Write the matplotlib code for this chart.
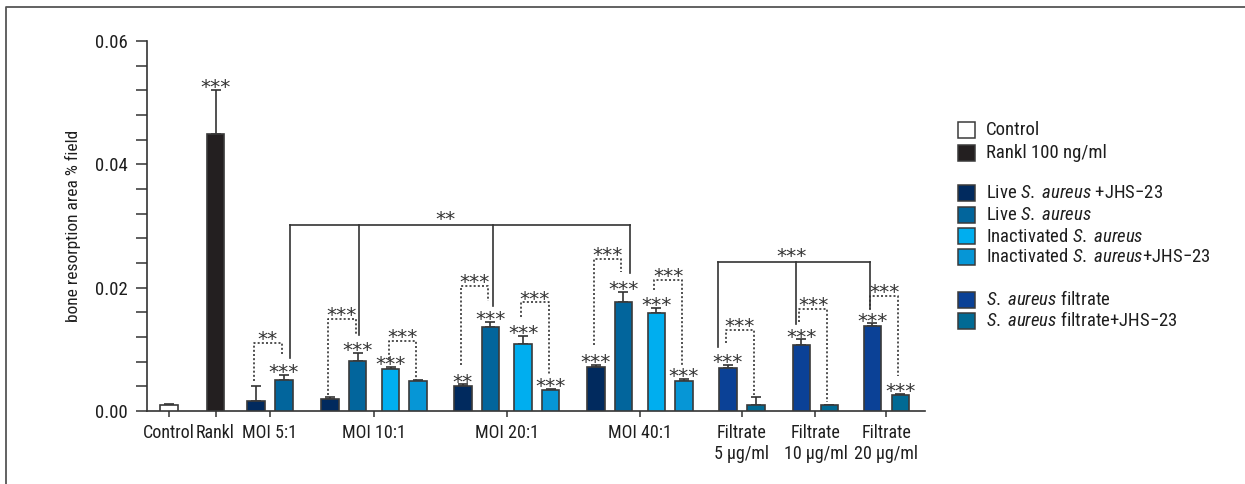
import numpy as np
import matplotlib
matplotlib.use("Agg")
import matplotlib.pyplot as plt
from matplotlib import font_manager
from matplotlib.patches import Rectangle
from matplotlib.lines import Line2D

# ---------------- data ----------------
group_labels = ["Control", "Rankl", "MOI 5:1", "MOI 10:1", "MOI 20:1", "MOI 40:1",
                "Filtrate\n5 μg/ml", "Filtrate\n10 μg/ml", "Filtrate\n20 μg/ml"]

control_val = [0.0009]
control_err = [0.0002]
control_sig = [""]

rankl_val = [0.045]
rankl_err = [0.007]
rankl_sig = ["***"]

# MOI 5:1, 10:1, 20:1, 40:1
live_jhs_val = [0.0016, 0.0019, 0.0040, 0.0071]
live_jhs_err = [0.0025, 0.0004, 0.0003, 0.0003]
live_jhs_sig = ["", "", "**", "***"]

live_val = [0.0050, 0.0081, 0.0136, 0.0177]
live_err = [0.0008, 0.0013, 0.0008, 0.0016]
live_sig = ["***", "***", "***", "***"]

# MOI 10:1, 20:1, 40:1
inact_val = [0.0068, 0.0109, 0.0159]
inact_err = [0.0004, 0.0013, 0.0008]
inact_sig = ["***", "***", "***"]

inact_jhs_val = [0.0048, 0.0034, 0.0049]
inact_jhs_err = [0.0003, 0.0001, 0.0003]
inact_jhs_sig = ["", "***", "***"]

# Filtrate 5, 10, 20 ug/ml
filt_val = [0.0070, 0.0107, 0.0138]
filt_err = [0.0004, 0.0009, 0.0004]
filt_sig = ["***", "***", "***"]

filt_jhs_val = [0.0010, 0.0009, 0.0026]
filt_jhs_err = [0.0012, 0.0001, 0.0001]
filt_jhs_sig = ["", "", "***"]

legend_labels = ["Control", "Rankl 100 ng/ml", None,
                 r"Live $\mathit{S.}$ $\mathit{aureus}$ +JHS−23",
                 r"Live $\mathit{S.}$ $\mathit{aureus}$",
                 r"Inactivated $\mathit{S.}$ $\mathit{aureus}$",
                 r"Inactivated $\mathit{S.}$ $\mathit{aureus}$+JHS−23", None,
                 r"$\mathit{S.}$ $\mathit{aureus}$ filtrate",
                 r"$\mathit{S.}$ $\mathit{aureus}$ filtrate+JHS−23"]

# ---------------- style ----------------
avail = {f.name for f in font_manager.fontManager.ttflist}
FONT = "DejaVu Sans"
for cand in ["Liberation Sans Narrow", "Roboto Condensed", "Open Sans Condensed", "Liberation Sans"]:
    if cand in avail:
        FONT = cand
        break
plt.rcParams["font.family"] = [FONT, "DejaVu Sans"]
plt.rcParams["mathtext.fontset"] = "custom"
plt.rcParams["mathtext.rm"] = FONT
plt.rcParams["mathtext.it"] = FONT + ":italic"

C_CONTROL = "#ffffff"
C_RANKL = "#231f20"
C_LIVE_JHS = "#012a5e"
C_LIVE = "#02659c"
C_INACT = "#00aeef"
C_INACT_JHS = "#0696d6"
C_FILT = "#0b4196"
C_FILT_JHS = "#016a94"
EDGE = "#3a3a3a"
INK = "#333333"
TXT = "#1e1e1e"

STAR_FS = 14.5
STAR_C = STAR_FS * 100 / 72 * 0.55  # glyph centre above baseline, px

W, H = 1245, 484
fig = plt.figure(figsize=(W / 100, H / 100), dpi=100)
x0, x1, y0, y1 = 147, 925, 411, 41
ax = fig.add_axes([x0 / W, 1 - y0 / H, (x1 - x0) / W, (y0 - y1) / H])
ax.set_xlim(x0, x1)
ax.set_ylim(0, 0.06)

# layout (pixel-like x units)
centers = [169, 215.5, 270, 374, 506.75, 640, 742, 815.5, 886.5]
BW = 17.5
quad = [-44, -16.5, 16.5, 44]
pair = [-14, 14]

def star(x, y, s, off):
    ax.annotate(s, (x, y), xytext=(0, off - STAR_C), textcoords="offset pixels",
                ha="center", va="baseline", fontsize=STAR_FS, color=INK,
                family="DejaVu Sans", zorder=5)

bar_x = {}
def draw(xs, vals, errs, sigs, color, key):
    xs = np.asarray(xs, float)
    ax.bar(xs, vals, width=BW, color=color, edgecolor=EDGE, linewidth=1.2, zorder=3)
    ax.errorbar(xs, vals, yerr=[np.zeros(len(vals)), errs], fmt="none",
                ecolor=INK, elinewidth=1.2, capsize=3.5, capthick=1.2, zorder=2)
    for x, v, e, s in zip(xs, vals, errs, sigs):
        if s:
            star(x, v + e, s, 8)
    bar_x[key] = xs

draw([centers[0]], control_val, control_err, control_sig, C_CONTROL, "control")
draw([centers[1]], rankl_val, rankl_err, rankl_sig, C_RANKL, "rankl")
draw([centers[2] + pair[0]] + [centers[g] + quad[0] for g in (3, 4, 5)],
     live_jhs_val, live_jhs_err, live_jhs_sig, C_LIVE_JHS, "live_jhs")
draw([centers[2] + pair[1]] + [centers[g] + quad[1] for g in (3, 4, 5)],
     live_val, live_err, live_sig, C_LIVE, "live")
draw([centers[g] + quad[2] for g in (3, 4, 5)], inact_val, inact_err, inact_sig, C_INACT, "inact")
draw([centers[g] + quad[3] for g in (3, 4, 5)], inact_jhs_val, inact_jhs_err, inact_jhs_sig, C_INACT_JHS, "inact_jhs")
draw([centers[g] + pair[0] for g in (6, 7, 8)], filt_val, filt_err, filt_sig, C_FILT, "filt")
draw([centers[g] + pair[1] for g in (6, 7, 8)], filt_jhs_val, filt_jhs_err, filt_jhs_sig, C_FILT_JHS, "filt_jhs")

# ---------------- significance brackets ----------------
DOT = (0, (1.2, 1.3))
dotted = [
    (bar_x["live_jhs"][0], bar_x["live"][0], 0.0048, 0.0110, 0.0092, "**"),
    (bar_x["live_jhs"][1], bar_x["live"][1], 0.0026, 0.0150, 0.0123, "***"),
    (bar_x["inact"][0], bar_x["inact_jhs"][0], 0.0085, 0.0114, 0.0051, "***"),
    (bar_x["live_jhs"][2], bar_x["live"][2], 0.0075, 0.0203, 0.0178, "***"),
    (bar_x["inact"][1], bar_x["inact_jhs"][1], 0.0153, 0.0176, 0.0058, "***"),
    (bar_x["live_jhs"][3], bar_x["live"][3], 0.0107, 0.0247, 0.0226, "***"),
    (bar_x["inact"][2], bar_x["inact_jhs"][2], 0.0197, 0.0212, 0.0072, "***"),
    (bar_x["filt"][0], bar_x["filt_jhs"][0], 0.0110, 0.0131, 0.0026, "***"),
    (bar_x["filt"][1], bar_x["filt_jhs"][1], 0.0145, 0.0165, 0.0014, "***"),
    (bar_x["filt"][2], bar_x["filt_jhs"][2], 0.0164, 0.0187, 0.0056, "***"),
]
for xl, xr, yl, yt, yr, s in dotted:
    xl -= 2; xr -= 2
    ax.plot([xl, xl, xr, xr], [yl, yt, yt, yr], color=INK, lw=1.2, ls=DOT, zorder=4)
    star((xl + xr) / 2, yt, s, 9)

solid = [
    (bar_x["live"] + np.array([6, 1.2, 2.5, 6.5]), [0.0086, 0.0123, 0.0171, 0.0223], 0.0302, "**", 445),
    (bar_x["filt"] + np.array([-10, -5.5, -2.5]), [0.0104, 0.0141, 0.0167], 0.0242, "***", 791.5),
]
for xs, bottoms, top, s, xt in solid:
    ax.plot([xs[0], xs[-1]], [top, top], color=INK, lw=1.2, zorder=4)
    for x, b in zip(xs, bottoms):
        ax.plot([x, x], [b, top], color=INK, lw=1.2, zorder=4)
    star(xt, top, s, 11)

# ---------------- axes ----------------
for sp in ("top", "right"):
    ax.spines[sp].set_visible(False)
for sp in ("left", "bottom"):
    ax.spines[sp].set_color(INK)
    ax.spines[sp].set_linewidth(1.2)
ax.set_yticks([0, 0.02, 0.04, 0.06])
ax.set_yticklabels(["0.00", "0.02", "0.04", "0.06"])
ax.set_yticks(np.arange(0, 0.0601, 0.004), minor=True)
ax.tick_params(axis="y", which="both", length=8, width=1.1, color=INK,
               labelsize=13.5, pad=6, labelcolor=TXT)
ax.set_xticks(centers)
ax.set_xticklabels(group_labels, linespacing=1.25)
ax.tick_params(axis="x", length=4, width=1.1, color=INK, labelsize=13, pad=5,
               labelcolor=TXT)
ax.set_ylabel("bone resorption area % field", fontsize=12.5, color=TXT, labelpad=10)

# ---------------- legend ----------------
def fx(x):
    return x / W
def fy(y):
    return 1 - y / H

leg_colors = [C_CONTROL, C_RANKL, None, C_LIVE_JHS, C_LIVE, C_INACT, C_INACT_JHS, None, C_FILT, C_FILT_JHS]
leg_y = [130, 152.5, None, 193, 215, 236.5, 257, None, 299.5, 320.5]
for lab, col, yy in zip(legend_labels, leg_colors, leg_y):
    if lab is None:
        continue
    fig.add_artist(Rectangle((fx(958), fy(yy + 8)), 17 / W, 16 / H, transform=fig.transFigure,
                             facecolor=col, edgecolor=EDGE, linewidth=1.1))
    fig.text(fx(986), fy(yy), lab, fontsize=13.5, va="center", ha="left", color=TXT)

# outer frame
fig.add_artist(Line2D([fx(6), fx(6), fx(W)], [0, fy(7), fy(7)], transform=fig.transFigure,
                      color="#555555", lw=1.3))

fig.savefig("out.png", dpi=100)
